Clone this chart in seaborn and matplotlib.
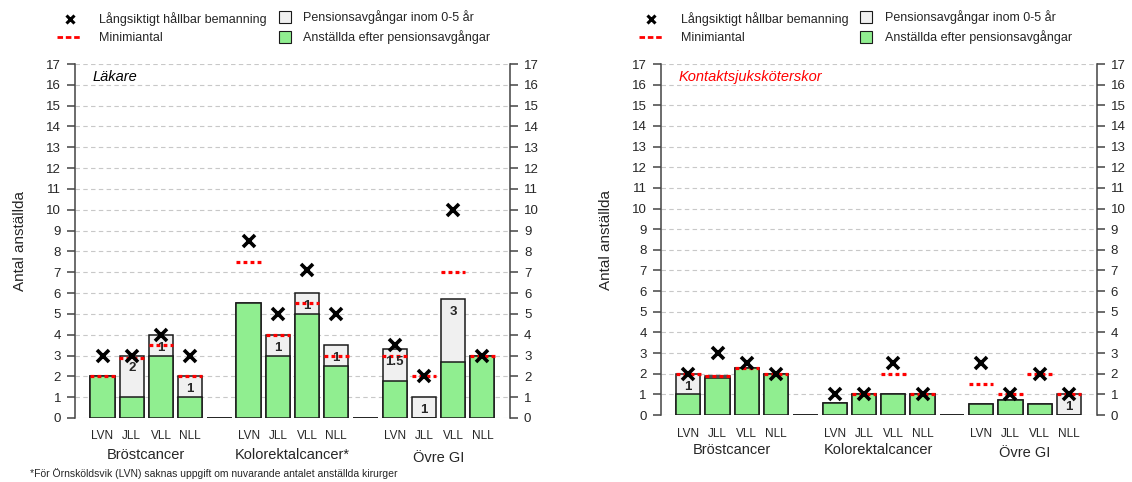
import numpy as np
import pandas as pd
import matplotlib
matplotlib.use("Agg")
import matplotlib.pyplot as plt
import matplotlib.transforms as mtransforms
from matplotlib.lines import Line2D
import seaborn as sns

sns.set_style("white")
plt.rcParams["font.family"] = ["Liberation Sans", "DejaVu Sans"]

# DATA
sites = ["LVN", "JLL", "VLL", "NLL"]
groups_lak = ["Bröstcancer", "Kolorektalcancer*", "Övre GI"]
groups_kss = ["Bröstcancer", "Kolorektalcancer", "Övre GI"]

# Läkare
lak_green = [2, 1, 3, 1, 5.5, 3, 5, 2.5, 1.8, 0, 2.7, 3]
lak_pension = [0, 2, 1, 1, 0, 1, 1, 1, 1.5, 1, 3, 0]
lak_min = [2, 2.9, 3.5, 2, 7.5, 4, 5.5, 3, 3, 2, 7, 3]
lak_target = [3, 3, 4, 3, 8.5, 5, 7.1, 5, 3.5, 2, 10, 3]
lak_labels = ["", "2", "1", "1", "", "1", "1", "1", "1.5", "1", "3", ""]

# Kontaktsjuksköterskor
kss_green = [1, 1.8, 2.3, 2, 0.6, 1, 1, 1, 0.55, 0.75, 0.55, 0]
kss_pension = [1, 0.1, 0, 0, 0, 0, 0, 0, 0, 0, 0, 1]
kss_min = [2, 1.9, 2.3, 2, np.nan, 1, 2, 1, 1.5, 1, 2, 1]
kss_target = [2, 3, 2.5, 2, 1, 1, 2.5, 1, 2.5, 1, 2, 1]
kss_labels = ["1", "", "", "", "", "", "", "", "", "", "", "1"]

GREEN = "#90EE90"
GREY = "#F0F0F0"
EDGE = "#1a1a1a"


def build_frame(green, pension, minimum, target, labels):
    rows = []
    k = 0
    for g in range(3):
        for s in sites:
            rows.append(dict(slot=f"g{g}_{s}", site=s, green=green[k],
                             total=green[k] + pension[k], minimum=minimum[k],
                             target=target[k], label=labels[k]))
            k += 1
        if g < 2:
            rows.append(dict(slot=f"gap{g}", site="", green=0, total=0,
                             minimum=np.nan, target=np.nan, label=""))
    df = pd.DataFrame(rows)
    df["pos"] = np.arange(len(df))
    return df


def draw_panel(ax, df, groups, title, title_color, group_y, leg_x):
    order = list(df["slot"])
    sns.barplot(data=df, x="slot", y="total", order=order, color=GREY,
                saturation=1, edgecolor=EDGE, linewidth=1.1, width=0.83,
                errorbar=None, ax=ax)
    sns.barplot(data=df, x="slot", y="green", order=order, color=GREEN,
                saturation=1, edgecolor=EDGE, linewidth=1.1, width=0.83,
                errorbar=None, ax=ax)

    # minimum lines
    m = df.dropna(subset=["minimum"])
    ax.hlines(m["minimum"], m["pos"] - 0.42, m["pos"] + 0.42, color="red",
              linestyles=(0, (1.2, 1.0)), linewidth=2.3, zorder=4)
    # long-term target
    t = df.dropna(subset=["target"])
    ax.plot(t["pos"], t["target"], ls="none", marker="x", ms=8, mew=2.6,
            color="black", zorder=5)
    # pension labels
    for _, r in df[df["label"] != ""].iterrows():
        ax.text(r["pos"], r["total"] - 0.62, r["label"], ha="center",
                va="center", fontsize=9.5, fontweight="bold", zorder=6)

    ax.set_ylim(0, 17)
    ax.set_xlim(-0.94, 13.95)
    ax.set_yticks(range(0, 18))
    ax.set_xticks(df["pos"])
    ax.set_xticklabels(df["site"], fontsize=8.5)
    ax.tick_params(axis="x", length=0, pad=9)
    ax.tick_params(axis="y", left=True, right=True, labelleft=True,
                   labelright=True, direction="out", length=6, width=1.1,
                   color="#444444", labelsize=9.5, pad=4)
    ax.set_xlabel("")
    ax.set_ylabel("Antal anställda", fontsize=11, labelpad=14)
    ax.yaxis.grid(True, linestyle=(0, (4, 3)), color="#c8c8c8", lw=0.8)
    ax.set_axisbelow(True)
    for side in ["top", "bottom"]:
        ax.spines[side].set_visible(False)
    for side in ["left", "right"]:
        ax.spines[side].set_color("#444444")
        ax.spines[side].set_linewidth(1.1)

    trans = mtransforms.blended_transform_factory(ax.transData, ax.transAxes)
    for g, name in enumerate(groups):
        ax.text(g * 5 + 1.5, group_y[g], name, transform=trans, ha="center",
                va="center", fontsize=10.5)

    ax.text(0.04, 0.963, title, transform=ax.transAxes, style="italic",
            color=title_color, fontsize=10.5, va="center", ha="left")

    # legend, two columns drawn as two legends
    h1 = [Line2D([], [], ls="none", marker="x", ms=6, mew=2.2, color="black"),
          Line2D([], [], ls=(0, (2, 1)), lw=2, color="red")]
    h2 = [Line2D([], [], ls="none", marker="s", ms=8, mfc=GREY, mec=EDGE, mew=0.8),
          Line2D([], [], ls="none", marker="s", ms=8, mfc=GREEN, mec=EDGE, mew=0.8)]
    common = dict(loc="lower left", frameon=False, fontsize=9,
                  handlelength=2.0, labelspacing=0.5, borderpad=0,
                  borderaxespad=0)
    leg1 = ax.legend(h1, ["Långsiktigt hållbar bemanning", "Minimiantal"],
                     bbox_to_anchor=(leg_x[0], 1.056), handletextpad=1.35,
                     **common)
    ax.add_artist(leg1)
    ax.legend(h2, ["Pensionsavgångar inom 0-5 år",
                   "Anställda efter pensionsavgångar"],
              bbox_to_anchor=(leg_x[1], 1.056), handletextpad=0.45, **common)


fig = plt.figure(figsize=(11.32, 4.82), dpi=100)
ax1 = fig.add_axes([0.0663, 0.1328, 0.3843, 0.7344])
ax2 = fig.add_axes([0.5837, 0.139, 0.3852, 0.7282])

df_lak = build_frame(lak_green, lak_pension, lak_min, lak_target, lak_labels)
df_kss = build_frame(kss_green, kss_pension, kss_min, kss_target, kss_labels)

draw_panel(ax1, df_lak, groups_lak, "Läkare", "black",
           [-0.105, -0.105, -0.113], (-0.041, 0.454))
draw_panel(ax2, df_kss, groups_kss, "Kontaktsjuksköterskor", "red",
           [-0.1, -0.1, -0.108], (-0.05, 0.443))

fig.text(0.0265, 0.017, "*För Örnsköldsvik (LVN) saknas uppgift om nuvarande antalet anställda kirurger",
         fontsize=7.5, va="center", ha="left")

fig.savefig("out.png", dpi=100)
